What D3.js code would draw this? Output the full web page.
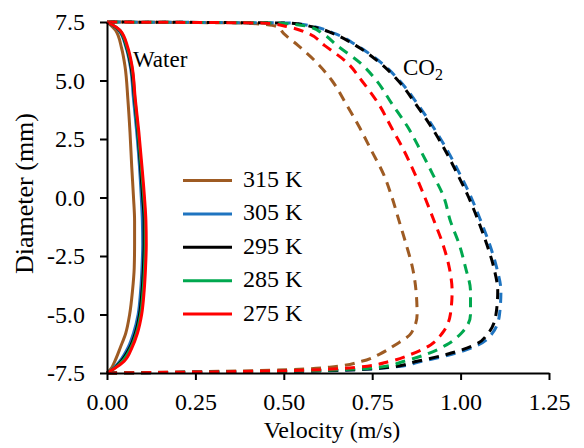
<!DOCTYPE html>
<html>
<head>
<meta charset="utf-8">
<script src="https://cdn.jsdelivr.net/npm/d3@7"></script>
<style>
  html, body { margin: 0; padding: 0; background: #fff; }
  svg { display: block; font-family: "Liberation Serif", "Times New Roman", serif; }
</style>
</head>
<body>
<svg id="chart" width="584" height="448"></svg>
<script>
// Series, legend order (top to bottom)
const temps  = ['315 K', '305 K', '295 K', '285 K', '275 K'];
const colors = ['#9e5b23', '#1f74c0', '#000000', '#00a84f', '#ff0000'];

// Water profiles (solid): diameter (mm) -> velocity (m/s)
const waterDiam = [-7.5, -7.3, -7.0, -6.4, -5.8, -5.0, -4.0, -3.0, -2.0, -1.0, 0, 1.3, 2.8, 4.2, 5.6, 6.4, 7.15, 7.5];
const water315 = [0, 0.012, 0.022, 0.038, 0.053, 0.064, 0.072, 0.077, 0.078, 0.078, 0.075, 0.070, 0.065, 0.059, 0.051, 0.041, 0.024, 0];
const water305 = [0, 0.018, 0.036, 0.060, 0.075, 0.088, 0.095, 0.099, 0.101, 0.100, 0.097, 0.092, 0.084, 0.075, 0.066, 0.054, 0.033, 0];
const water295 = [0, 0.020, 0.040, 0.065, 0.080, 0.092, 0.099, 0.103, 0.105, 0.105, 0.101, 0.095, 0.087, 0.078, 0.068, 0.056, 0.035, 0];
const water285 = [0, 0.021, 0.043, 0.068, 0.083, 0.095, 0.102, 0.106, 0.108, 0.108, 0.104, 0.097, 0.088, 0.079, 0.070, 0.057, 0.036, 0];
const water275 = [0, 0.022, 0.048, 0.071, 0.086, 0.098, 0.105, 0.109, 0.111, 0.110, 0.106, 0.099, 0.090, 0.080, 0.071, 0.059, 0.037, 0];

// CO2 profiles (dashed)
const co2Diam = [-7.5, -7.4, -7.25, -7.0, -6.7, -6.3, -5.8, -5.0, -4.0, -3.0, -2.0, -1.0, 0, 1, 2, 3, 4, 5, 5.75, 6.5, 7.0, 7.3, 7.45, 7.5];
const co2_315 = [0, 0.42, 0.63, 0.72, 0.77, 0.815, 0.86, 0.877, 0.874, 0.864, 0.846, 0.826, 0.806, 0.782, 0.748, 0.714, 0.676, 0.636, 0.594, 0.540, 0.500, 0.480, 0.400, 0];
const co2_305 = [0, 0.63, 0.81, 0.89, 0.975, 1.05, 1.09, 1.11, 1.114, 1.102, 1.082, 1.057, 1.030, 0.998, 0.963, 0.923, 0.878, 0.827, 0.776, 0.706, 0.645, 0.585, 0.525, 0];
const co2_295 = [0, 0.62, 0.80, 0.877, 0.962, 1.040, 1.078, 1.100, 1.105, 1.094, 1.074, 1.050, 1.023, 0.991, 0.957, 0.918, 0.873, 0.823, 0.772, 0.703, 0.640, 0.580, 0.520, 0];
const co2_285 = [0, 0.58, 0.77, 0.84, 0.903, 0.960, 1.002, 1.028, 1.028, 1.014, 0.996, 0.971, 0.953, 0.921, 0.887, 0.851, 0.806, 0.762, 0.716, 0.650, 0.610, 0.570, 0.490, 0];
const co2_275 = [0, 0.52, 0.71, 0.80, 0.86, 0.915, 0.948, 0.971, 0.976, 0.968, 0.950, 0.925, 0.899, 0.871, 0.840, 0.804, 0.768, 0.720, 0.680, 0.615, 0.570, 0.510, 0.450, 0];

const xTicks = [0, 0.25, 0.5, 0.75, 1.0, 1.25];
const yTicks = [7.5, 5.0, 2.5, 0.0, -2.5, -5.0, -7.5];

const waterSeries = [water315, water305, water295, water285, water275];
const co2Series   = [co2_315, co2_305, co2_295, co2_285, co2_275];

const svg = d3.select('#chart');
const mLeft = 107, mRight = 549, mTop = 22, mBottom = 373;

const x = d3.scaleLinear().domain([0, 1.25]).range([mLeft, mRight]);
const y = d3.scaleLinear().domain([-7.5, 7.5]).range([mBottom, mTop]);

const line = d3.line()
    .x(d => x(d[0]))
    .y(d => y(d[1]))
    .curve(d3.curveMonotoneY);

const plot = svg.append('g');

// CO2 dashed profiles
co2Series.forEach((vals, i) => {
    plot.append('path')
        .datum(vals.map((v, k) => [v, co2Diam[k]]))
        .attr('fill', 'none')
        .attr('stroke', colors[i])
        .attr('stroke-width', 3)
        .attr('stroke-dasharray', '10,7')
        .attr('d', line);
});

// Water solid profiles
waterSeries.forEach((vals, i) => {
    plot.append('path')
        .datum(vals.map((v, k) => [v, waterDiam[k]]))
        .attr('fill', 'none')
        .attr('stroke', colors[i])
        .attr('stroke-width', 3)
        .attr('d', line);
});

// Axes (plain hyphen for negatives, like the original)
const fmt1 = d3.format('.1f'), fmt2 = d3.format('.2f');
const xAxis = svg.append('g')
    .attr('transform', `translate(0,${mBottom})`)
    .call(d3.axisBottom(x).tickValues(xTicks).tickFormat(fmt2).tickSize(7).tickSizeOuter(0));
const yAxis = svg.append('g')
    .attr('transform', `translate(${mLeft},0)`)
    .call(d3.axisLeft(y).tickValues(yTicks)
        .tickFormat(d => fmt1(d).replace('\u2212', '-'))
        .tickSize(7).tickSizeOuter(0));

[xAxis, yAxis].forEach(a => {
    a.select('.domain').attr('stroke', '#000').attr('stroke-width', 2);
    a.selectAll('.tick line').attr('stroke', '#000').attr('stroke-width', 2);
    a.selectAll('.tick text')
        .attr('fill', '#000')
        .style('font-family', '"Liberation Serif", serif')
        .style('font-size', '24px');
});
xAxis.selectAll('.tick text').attr('y', 37).attr('dy', 0);
yAxis.selectAll('.tick text').attr('x', -22).attr('dy', '0.32em');

// Axis titles
svg.append('text')
    .attr('x', 332)
    .attr('y', 438)
    .attr('text-anchor', 'middle')
    .style('font-size', '24px')
    .text('Velocity (m/s)');

svg.append('text')
    .attr('transform', `translate(33,193.5) rotate(-90)`)
    .attr('text-anchor', 'middle')
    .style('font-size', '26px')
    .text('Diameter (mm)');

// In-plot labels
svg.append('text')
    .attr('x', 133).attr('y', 67)
    .style('font-size', '23px')
    .text('Water');

const co2 = svg.append('text')
    .attr('x', 403).attr('y', 75)
    .style('font-size', '23px');
co2.append('tspan').text('CO');
co2.append('tspan').attr('dy', 5).style('font-size', '16px').text('2');

// Legend
const legend = svg.append('g');
temps.forEach((t, i) => {
    const ly = 180.5 + i * 33.4;
    legend.append('line')
        .attr('x1', 183).attr('x2', 232)
        .attr('y1', ly).attr('y2', ly)
        .attr('stroke', colors[i])
        .attr('stroke-width', 3);
    legend.append('text')
        .attr('x', 243).attr('y', ly + 6.5)
        .style('font-size', '24px')
        .text(t);
});
</script>
</body>
</html>
